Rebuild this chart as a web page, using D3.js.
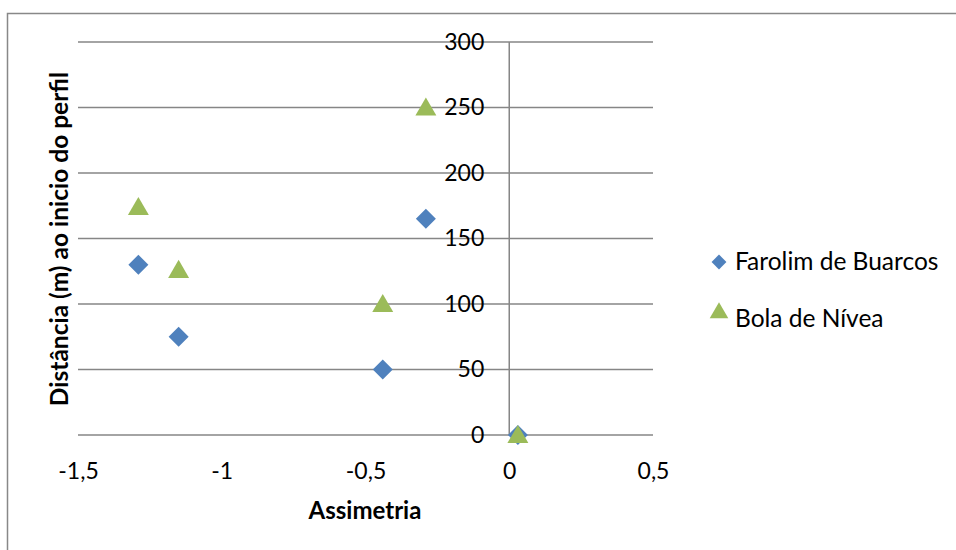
<!DOCTYPE html>
<html>
<head>
<meta charset="utf-8">
<script src="https://cdn.jsdelivr.net/npm/d3@7"></script>
<style>
  body { margin: 0; background: #fff; }
  svg { display: block; font-family: Lato, "Open Sans", sans-serif; }
</style>
</head>
<body>
<svg></svg>
<script>
// series data (Assimetria, distância)
var farolimX = [-1.29, -1.15, -0.44, -0.29, 0.03];
var farolimY = [130, 75, 50, 165, 0];
var bolaX = [-1.29, -1.15, -0.44, -0.29, 0.03];
var bolaY = [174, 126, 100, 250, 0];
var seriesNames = ["Farolim de Buarcos", "Bola de Nívea"];
var xTicks = [-1.5, -1, -0.5, 0, 0.5];
var yTicks = [0, 50, 100, 150, 200, 250, 300];

var width = 956;
var height = 550;
var gridColor = "#868686";
var blue = "#4F81BD";
var green = "#9BBB59";

var svg = d3.select('svg')
    .attr('width', width)
    .attr('height', height);

// chart border
svg.append('rect')
  .attr('x', 7.5)
  .attr('y', 13.5)
  .attr('width', 970)
  .attr('height', 560)
  .attr('fill', 'none')
  .attr('stroke', '#888')
  .attr('stroke-width', 1.5);

var x = d3.scaleLinear().domain([-1.5, 0.5]).range([78, 653]);
var y = d3.scaleLinear().domain([0, 300]).range([435, 42]);

var commaFmt = d => String(d).replace('.', ',');

// horizontal gridlines
svg.append('g')
  .selectAll('line')
  .data(yTicks)
  .enter()
  .append('line')
    .attr('x1', x(-1.5))
    .attr('x2', x(0.5))
    .attr('y1', d => y(d))
    .attr('y2', d => y(d))
    .attr('stroke', gridColor)
    .attr('stroke-width', 1.5);

// vertical axis line at x = 0
svg.append('line')
  .attr('x1', x(0))
  .attr('x2', x(0))
  .attr('y1', y(0))
  .attr('y2', y(300))
  .attr('stroke', gridColor)
  .attr('stroke-width', 1.5);

// y axis labels next to the x = 0 line
var yAxis = svg.append('g')
  .attr('transform', 'translate(' + x(0) + ',0)')
  .call(d3.axisLeft(y).tickValues(yTicks).tickSize(0).tickPadding(25));
yAxis.select('.domain').remove();
yAxis.selectAll('text')
  .attr('font-family', 'Lato, sans-serif')
  .attr('font-size', 23)
  .attr('fill', '#000');

// x axis labels
var xAxis = svg.append('g')
  .attr('transform', 'translate(0,' + y(0) + ')')
  .call(d3.axisBottom(x).tickValues(xTicks).tickFormat(commaFmt).tickSize(0).tickPadding(28));
xAxis.select('.domain').remove();
xAxis.selectAll('text')
  .attr('font-family', 'Lato, sans-serif')
  .attr('font-size', 23)
  .attr('fill', '#000');

// axis titles
svg.append('text')
  .attr('x', 365)
  .attr('y', 519)
  .attr('text-anchor', 'middle')
  .attr('font-size', 24)
  .attr('font-weight', 'bold')
  .text('Assimetria');

svg.append('text')
  .attr('transform', 'translate(68,239) rotate(-90)')
  .attr('text-anchor', 'middle')
  .attr('font-size', 24.5)
  .attr('font-weight', 'bold')
  .text('Distância (m) ao inicio do perfil');

var diamond = d3.symbol().type(d3.symbolSquare).size(200);
var triangle = d3.symbol().type(d3.symbolTriangle).size(190);

var farolim = farolimX.map((v, i) => ({x: v, y: farolimY[i]}));
var bola = bolaX.map((v, i) => ({x: v, y: bolaY[i]}));

svg.append('g')
  .selectAll('path')
  .data(farolim)
  .enter()
  .append('path')
    .attr('d', diamond)
    .attr('transform', d => 'translate(' + x(d.x) + ',' + y(d.y) + ') rotate(45)')
    .attr('fill', blue);

svg.append('g')
  .selectAll('path')
  .data(bola)
  .enter()
  .append('path')
    .attr('d', triangle)
    .attr('transform', d => 'translate(' + x(d.x) + ',' + (y(d.y) + 2) + ')')
    .attr('fill', green);

// legend
var legend = svg.append('g')
  .attr('transform', 'translate(719,262)');

legend.append('path')
  .attr('d', diamond.size(110))
  .attr('transform', 'rotate(45)')
  .attr('fill', blue);
legend.append('text')
  .attr('x', 16)
  .attr('y', 8)
  .attr('font-size', 24.5)
  .text(seriesNames[0]);

legend.append('path')
  .attr('d', triangle.size(150))
  .attr('transform', 'translate(0,51)')
  .attr('fill', green);
legend.append('text')
  .attr('x', 16)
  .attr('y', 65)
  .attr('font-size', 24.5)
  .text(seriesNames[1]);
</script>
</body>
</html>
